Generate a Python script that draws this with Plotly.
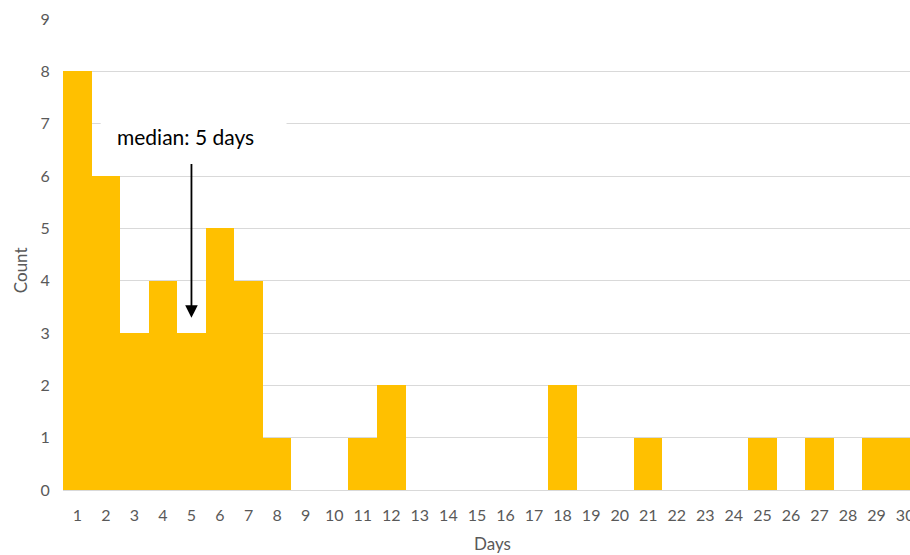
import plotly.graph_objects as go

days = list(range(1, 31))
counts = [8, 6, 3, 4, 3, 5, 4, 1, 0, 0, 1, 2, 0, 0, 0, 0, 0, 2, 0, 0, 1, 0, 0, 0, 1, 0, 1, 0, 1, 1]
y_ticks = list(range(0, 10))

median_day = 5
annot_text = "median: 5 days"
x_title = "Days"
y_title = "Count"

fig = go.Figure()
fig.add_trace(go.Bar(x=days, y=counts, marker=dict(color="#FFC000", line=dict(width=0)),
                     width=1.0))

font_family = "Lato, Open Sans, sans-serif"
fig.update_layout(
    width=910, height=555,
    margin=dict(l=63, r=0, t=19, b=65),
    plot_bgcolor="white", paper_bgcolor="white",
    bargap=0,
    showlegend=False,
    font=dict(family=font_family, color="#595959", size=16),
    xaxis=dict(range=[0.5, 30.17], tickmode="array", tickvals=days, ticktext=[str(d) for d in days],
               showgrid=False, zeroline=False, showline=True, linecolor="#D9D9D9", linewidth=1,
               ticks="outside", ticklen=11, tickcolor="rgba(0,0,0,0)",
               automargin=False, ticklabeloverflow="allow"),
    yaxis=dict(range=[0, 9], tickmode="array", tickvals=y_ticks,
               showgrid=True, gridcolor="#D9D9D9", gridwidth=1, zeroline=False,
               ticks="outside", ticklen=9, tickcolor="rgba(0,0,0,0)",
               automargin=False),
)

# axis titles
fig.add_annotation(x=0, y=4.2, xref="paper", yref="y", xshift=-43, text=y_title, textangle=-90,
                   showarrow=False, xanchor="center", yanchor="middle",
                   font=dict(family=font_family, size=17, color="#595959"))
fig.add_annotation(x=0.507, y=0, xref="paper", yref="paper", yshift=-53, text=x_title,
                   showarrow=False, xanchor="center", yanchor="middle",
                   font=dict(family=font_family, size=17, color="#595959"))

# white label box
fig.add_shape(type="rect", xref="x", yref="y", x0=1.82, x1=8.33, y0=6.3, y1=7.5,
              fillcolor="white", line=dict(width=0), layer="above")

fig.add_annotation(x=2.33, y=6.75, xref="x", yref="y", text=annot_text, showarrow=False,
                   xanchor="left", yanchor="middle",
                   font=dict(family=font_family, size=21, color="black"))

fig.add_annotation(x=median_day, y=3.29, xref="x", yref="y", ax=median_day, ay=6.26,
                   axref="x", ayref="y", text="", showarrow=True,
                   arrowhead=2, arrowsize=1.4, arrowwidth=1.8, arrowcolor="black")

fig.write_html("out.html", config={"displayModeBar": False},
               post_script="document.body.style.margin='0';")
